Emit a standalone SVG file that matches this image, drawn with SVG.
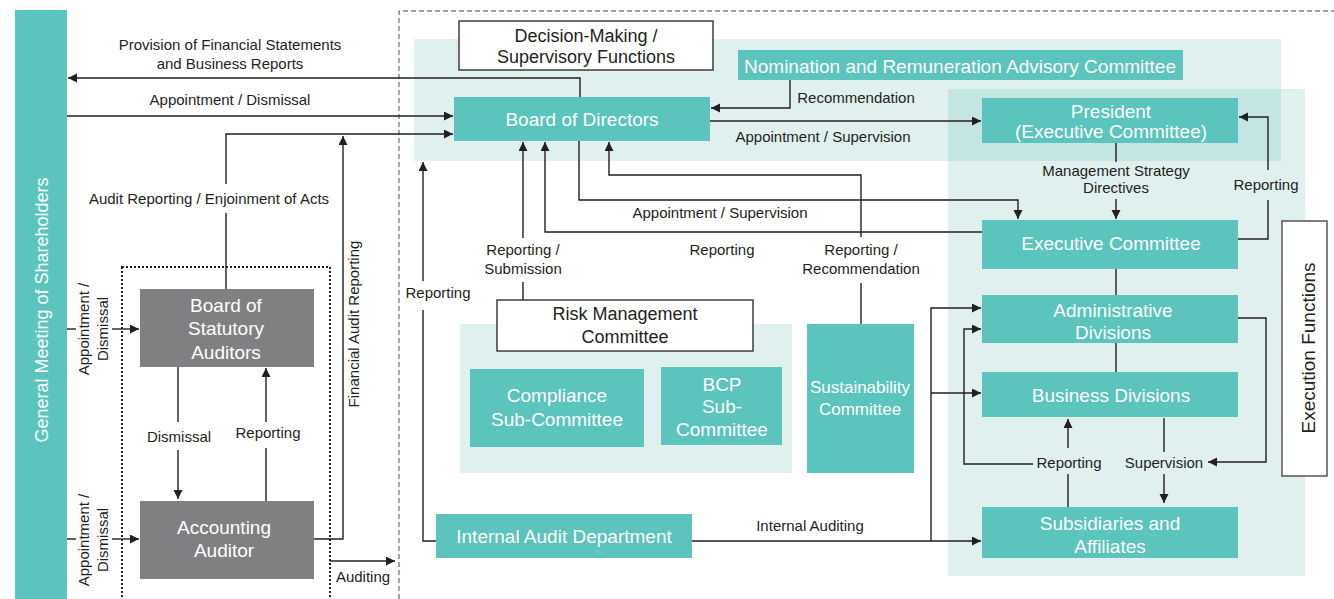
<svg xmlns="http://www.w3.org/2000/svg" width="1334" height="599" viewBox="0 0 1334 599">
<style>
text{font-family:"Liberation Sans",Arial,sans-serif}
.lbl{font-size:15px;fill:#231f20;text-anchor:middle}
.nt{font-size:19px;fill:#fff;text-anchor:middle}
.bt{font-size:18px;fill:#231f20;text-anchor:middle}
.teal{fill:#5bc4bc}
.gray{fill:#808082}
.wbox{fill:#fff;stroke:#231f20;stroke-width:1.3}
.ln{fill:none;stroke:#231f20;stroke-width:1.4}
.arr{fill:none;stroke:#231f20;stroke-width:1.4;marker-end:url(#ah)}
</style>
<defs>
<marker id="ah" markerUnits="userSpaceOnUse" markerWidth="10" markerHeight="10" refX="9" refY="4.5" orient="auto">
<path d="M0,0 L9,4.5 L0,9 z" fill="#231f20"/>
</marker>
</defs>
<rect width="1334" height="599" fill="#fff"/>
<g id="regions">
<rect x="414" y="39" width="867" height="122" fill="#dff0ee"/>
<rect x="948" y="89" width="357" height="487" fill="#dff0ee"/>
<rect x="948" y="89" width="333" height="72" fill="#c4e6e2"/>
<rect x="460" y="324" width="332" height="149" fill="#dff0ee"/>
</g>
<g id="separators">
<path d="M399,599 V11 H1334" fill="none" stroke="#444" stroke-width="1" stroke-dasharray="5,3"/>
<rect x="122" y="267" width="208" height="345" fill="none" stroke="#231f20" stroke-width="2" stroke-dasharray="2,2"/>
</g>
<g id="gms">
<rect x="15" y="10" width="52" height="589" class="teal"/>
<text transform="translate(48,310) rotate(-90)" class="nt" style="font-size:18px">General Meeting of Shareholders</text>
</g>
<g id="decision-label">
<rect x="459" y="21" width="254" height="49" class="wbox"/>
<text class="bt"><tspan x="586" y="42">Decision-Making /</tspan><tspan x="586" y="63">Supervisory Functions</tspan></text>
</g>
<g id="nomination">
<rect x="738" y="50" width="445" height="30" class="teal"/>
<text x="960" y="73" class="nt">Nomination and Remuneration Advisory Committee</text>
</g>
<g id="board">
<rect x="454" y="97" width="256" height="44" class="teal"/>
<text x="582" y="126" class="nt">Board of Directors</text>
</g>
<g id="president">
<rect x="982" y="98" width="256" height="45" class="teal"/>
<text class="nt"><tspan x="1111" y="118">President</tspan><tspan x="1111" y="138">(Executive Committee)</tspan></text>
</g>
<g id="executive">
<rect x="982" y="220" width="256" height="49" class="teal"/>
<text x="1111" y="250" class="nt">Executive Committee</text>
</g>
<g id="admin">
<rect x="982" y="295" width="256" height="48" class="teal"/>
<text class="nt"><tspan x="1113" y="317">Administrative</tspan><tspan x="1113" y="339">Divisions</tspan></text>
</g>
<g id="business">
<rect x="982" y="372" width="256" height="45" class="teal"/>
<text x="1111" y="402" class="nt">Business Divisions</text>
</g>
<g id="subsidiaries">
<rect x="982" y="507" width="256" height="51" class="teal"/>
<text class="nt"><tspan x="1110" y="530">Subsidiaries and</tspan><tspan x="1110" y="553">Affiliates</tspan></text>
</g>
<g id="execution">
<rect x="1282" y="221" width="45" height="255" fill="#fff" stroke="#555" stroke-width="1.5"/>
<text transform="translate(1315,348) rotate(-90)" class="bt" style="font-size:19px">Execution Functions</text>
</g>
<g id="risk">
<rect x="497" y="300" width="256" height="51" class="wbox"/>
<text class="bt"><tspan x="625" y="320">Risk Management</tspan><tspan x="625" y="343">Committee</tspan></text>
</g>
<g id="compliance">
<rect x="470" y="369" width="174" height="78" class="teal"/>
<text class="nt"><tspan x="557" y="402">Compliance</tspan><tspan x="557" y="426">Sub-Committee</tspan></text>
</g>
<g id="bcp">
<rect x="661" y="367" width="121" height="78" class="teal"/>
<text class="nt"><tspan x="722" y="391">BCP</tspan><tspan x="722" y="413">Sub-</tspan><tspan x="722" y="436">Committee</tspan></text>
</g>
<g id="sustainability">
<rect x="807" y="324" width="107" height="149" class="teal"/>
<text class="nt" style="font-size:17px"><tspan x="860" y="393">Sustainability</tspan><tspan x="860" y="415">Committee</tspan></text>
</g>
<g id="internal-audit">
<rect x="436" y="514" width="256" height="44" class="teal"/>
<text x="564" y="543" class="nt">Internal Audit Department</text>
</g>
<g id="statutory">
<rect x="140" y="289" width="174" height="78" class="gray"/>
<text class="nt"><tspan x="226" y="312">Board of</tspan><tspan x="226" y="335">Statutory</tspan><tspan x="226" y="359">Auditors</tspan></text>
</g>
<g id="accounting">
<rect x="140" y="501" width="174" height="78" class="gray"/>
<text class="nt"><tspan x="224" y="534">Accounting</tspan><tspan x="224" y="557">Auditor</tspan></text>
</g>
<g id="connectors">
<path class="arr" d="M580,97 V78 H68"/>
<path class="arr" d="M67,116 H453"/>
<path class="ln" d="M226,289 V213"/>
<path class="arr" d="M226,184 V134 H453"/>
<path class="arr" d="M314,539 H343 V136"/>
<path class="arr" d="M790,80 V108 H711"/>
<path class="arr" d="M710,121 H981"/>
<path class="arr" d="M579,141 V200 H1018 V219"/>
<path class="arr" d="M982,232 H545 V142"/>
<path class="ln" d="M861,324 V283"/>
<path class="arr" d="M861,237 V175 H609 V142"/>
<path class="ln" d="M523,300 V282"/>
<path class="arr" d="M523,238 V142"/>
<path class="ln" d="M436,541 H423 V310"/>
<path class="arr" d="M423,281 V162"/>
<path class="arr" d="M692,541 H981"/>
<path class="arr" d="M931,541 V308 H981"/>
<path class="arr" d="M931,393 H981"/>
<path class="ln" d="M1238,239 H1268 V200"/>
<path class="arr" d="M1268,170 V117 H1239"/>
<path class="ln" d="M1116,143 V162"/>
<path class="arr" d="M1116,199 V219"/>
<path class="ln" d="M1116,269 V295"/>
<path class="ln" d="M1116,343 V372"/>
<path class="arr" d="M1238,318 H1266 V462 H1208"/>
<path class="ln" d="M1164,418 V452"/>
<path class="arr" d="M1164,474 V503"/>
<path class="ln" d="M1068,507 V474"/>
<path class="arr" d="M1068,448 V419"/>
<path class="arr" d="M1033,464 H964 V329 H981"/>
<path class="ln" d="M178,367 V422"/>
<path class="arr" d="M178,450 V499"/>
<path class="ln" d="M266,501 V448"/>
<path class="arr" d="M266,422 V368"/>
<path class="ln" d="M67,329 H76"/>
<path class="arr" d="M112,329 H139"/>
<path class="ln" d="M67,539 H76"/>
<path class="arr" d="M112,539 H139"/>
<path class="arr" d="M330,561 H395"/>
</g>
<g id="labels">
<text class="lbl"><tspan x="230" y="50">Provision of Financial Statements</tspan><tspan x="230" y="69">and Business Reports</tspan></text>
<text x="230" y="105" class="lbl">Appointment / Dismissal</text>
<text x="209" y="204" class="lbl">Audit Reporting / Enjoinment of Acts</text>
<text x="856" y="103" class="lbl">Recommendation</text>
<text x="823" y="142" class="lbl">Appointment / Supervision</text>
<text x="720" y="218" class="lbl">Appointment / Supervision</text>
<text x="722" y="255" class="lbl">Reporting</text>
<text class="lbl"><tspan x="523" y="255">Reporting /</tspan><tspan x="523" y="274">Submission</tspan></text>
<text class="lbl"><tspan x="861" y="255">Reporting /</tspan><tspan x="861" y="274">Recommendation</tspan></text>
<text x="438" y="298" class="lbl">Reporting</text>
<text x="810" y="531" class="lbl">Internal Auditing</text>
<text x="363" y="582" class="lbl">Auditing</text>
<text x="179" y="442" class="lbl">Dismissal</text>
<text x="268" y="438" class="lbl">Reporting</text>
<text class="lbl"><tspan x="1116" y="176">Management Strategy</tspan><tspan x="1116" y="193">Directives</tspan></text>
<text x="1266" y="190" class="lbl">Reporting</text>
<text x="1069" y="468" class="lbl">Reporting</text>
<text x="1164" y="468" class="lbl">Supervision</text>
<text transform="translate(359,324) rotate(-90)" class="lbl">Financial Audit Reporting</text>
<text transform="translate(0,329) rotate(-90)" class="lbl"><tspan x="0" y="89">Appointment /</tspan><tspan x="0" y="108">Dismissal</tspan></text>
<text transform="translate(0,540) rotate(-90)" class="lbl"><tspan x="0" y="89">Appointment /</tspan><tspan x="0" y="108">Dismissal</tspan></text>
</g>
</svg>
